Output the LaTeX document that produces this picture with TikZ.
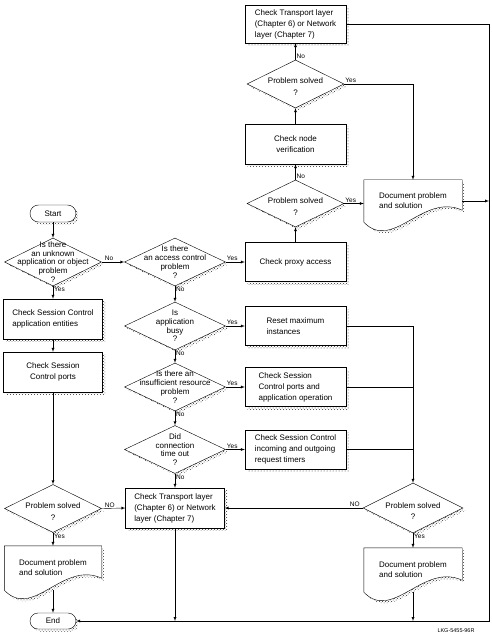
\documentclass[tikz,border=0pt]{standalone}
\usepackage{fontspec}
\setmainfont{Liberation Sans}
\usetikzlibrary{shapes.geometric, shapes.misc, shadows, patterns, backgrounds, positioning, arrows}
\tikzset{
x=1pt, y=-1pt, % one unit is one pixel of the scan, y goes down
line width=0.8pt,
>=latex,
halfdots/.style={pattern=crosshatch dots, pattern color=black!80}, % halftone used for the shadows
halftone/.style={general shadow={shadow xshift=2.5pt, shadow yshift=-2.5pt, halfdots}},
box/.style={draw, fill=white, halftone, minimum width=101pt, minimum height=40pt, inner sep=2pt, align=left, font=\fontsize{8}{11}\selectfont},
decision/.style={diamond, draw, fill=white, halftone, minimum width=97pt, minimum height=48pt, inner sep=0pt},
dtext/.style={align=center, inner sep=0pt, font=\fontsize{8}{8.8}\selectfont},
term/.style={rounded rectangle, draw, fill=white, halftone, minimum width=46pt, minimum height=17pt, inner sep=0pt, font=\fontsize{8}{10}\selectfont},
doc/.style={minimum width=98pt, align=left, inner sep=0pt, font=\fontsize{8}{10}\selectfont},
flow/.style={->},
yn/.style={font=\fontsize{6.5}{7}\selectfont, inner sep=1pt},
}
% outline of a document symbol, wave under the node
\def\docpath#1{(#1.north west) -- (#1.north east) -- ([yshift=12pt]#1.south east)
  .. controls +(-39,-18) and +(29,30) .. (#1.south west) -- cycle}

\begin{document}
\begin{tikzpicture}
\useasboundingbox (0,0) rectangle (491,636);

% left column
\node[term] (start) at (53,213.5) {Start};
\node[decision, label={[dtext]center:{Is there\\an unknown\\application or object\\problem\\?}}] (unknown) at (53,262) {};
\node[box, minimum width=99pt] (entities) at (53,319) {Check Session Control\\application entities};
\node[box, minimum width=99pt, align=center] (ports) at (53,372) {Check Session\\Control ports};
\node[decision, label={[dtext, yshift=-3pt]center:{Problem solved\\[3pt]?}}] (solvedL) at (53,508.5) {};
\node[doc, minimum width=97pt, minimum height=44pt] (docL) at (53,568) {Document problem\\and solution};
\node[term, minimum height=16pt] (finish) at (53,621) {End};

% middle column
\node[decision, minimum width=101pt, label={[dtext]center:{Is there\\an access control\\problem\\?}}] (access) at (175,262) {};
\node[decision, minimum width=101pt, label={[dtext]center:{Is\\application\\busy\\?}}] (busy) at (175,326) {};
\node[decision, minimum width=101pt, label={[dtext]center:{Is there an\\insufficient resource\\problem\\?}}] (resource) at (175,387) {};
\node[decision, minimum width=101pt, label={[dtext]center:{Did\\connection\\time out\\?}}] (timeout) at (175,449.5) {};
\node[box, minimum width=99pt] (transL) at (175,508) {Check Transport layer\\(Chapter 6) or Network\\layer (Chapter 7)};

% right column
\node[box, minimum height=38pt] (transU) at (295.5,24) {Check Transport layer\\(Chapter 6) or Network\\layer (Chapter 7)};
\node[decision, label={[dtext, yshift=-3pt]center:{Problem solved\\[3pt]?}}] (solvedB) at (295.5,84) {};
\node[box, align=center] (verify) at (295.5,144) {Check node\\verification};
\node[decision, minimum height=47pt, label={[dtext, yshift=-3pt]center:{Problem solved\\[3pt]?}}] (solvedA) at (295.5,203.5) {};
\node[box, minimum height=39pt] (proxy) at (295.5,262) {Check proxy access};
\node[box, minimum height=39pt] (reset) at (295.5,326) {Reset maximum\\instances};
\node[box, minimum height=39pt] (appop) at (295.5,387) {Check Session\\Control ports and\\application operation};
\node[box, minimum height=39pt] (timers) at (295.5,449.5) {Check Session Control\\incoming and outgoing\\request timers};

% documents and last check on the far right
\node[doc, minimum height=42pt] (docU) at (413,201) {Document problem\\and solution};
\node[decision, minimum width=100pt, minimum height=50pt, label={[dtext, yshift=-3pt]center:{Problem solved\\[3pt]?}}] (solvedR) at (413,508) {};
\node[doc, minimum height=44pt] (docR) at (413,570) {Document problem\\and solution};

\begin{scope}[on background layer]
\foreach \d in {docL, docU, docR} {
  \fill[halfdots, transform canvas={shift={(2.5pt,-2.5pt)}}] \docpath{\d};
  \draw[fill=white] \docpath{\d};
}
\end{scope}

\coordinate (rcorner) at (489,621);
\coordinate (merge) at (413,326);

% left column flow
\draw[flow] (start.south) -- (unknown.north);
\draw[flow] (unknown.east) -- node[yn, pos=0, anchor=south west, xshift=2pt]{No} (access.west);
\draw[flow] (unknown.south) -- node[yn, pos=0, anchor=north west]{Yes} (entities.north);
\draw[flow] (entities) -- (ports);
\draw[flow] (ports) -- (solvedL);
\draw[flow] (solvedL.east) -- node[yn, pos=0, anchor=south west, xshift=2pt]{NO} (transL.west);
\draw[flow] (solvedL.south) -- node[yn, pos=0, anchor=north west]{Yes} (docL.north);
\draw[flow] (docL.south) -- (finish.north);

% middle column flow
\draw[flow] (access.east) -- node[yn, pos=0, anchor=south west]{Yes} (proxy.west);
\draw[flow] (access.south) -- node[yn, pos=0, anchor=north west]{No} (busy.north);
\draw[flow] (busy.east) -- node[yn, pos=0, anchor=south west]{Yes} (reset.west);
\draw[flow] (busy.south) -- node[yn, pos=0, anchor=north west]{No} (resource.north);
\draw[flow] (resource.east) -- node[yn, pos=0, anchor=south west]{Yes} (appop.west);
\draw[flow] (resource.south) -- node[yn, pos=0, anchor=north west]{No} (timeout.north);
\draw[flow] (timeout.east) -- node[yn, pos=0, anchor=south west]{Yes} (timers.west);
\draw[flow] (timeout.south) -- node[yn, pos=0, anchor=north west]{No} (transL.north);

% right column flow
\draw[flow] (proxy.north) -- (solvedA.south);
\draw[flow] (solvedA.east) -- node[yn, pos=0, anchor=south west]{Yes} (solvedA.east -| docU.west);
\draw[flow] (solvedA.north) -- node[yn, pos=0, anchor=south west]{No} (verify.south);
\draw[flow] (verify.north) -- (solvedB.south);
\draw[flow] (solvedB.north) -- node[yn, pos=0, anchor=south west]{No} (transU.south);
\draw[flow] (solvedB.east) -| node[yn, pos=0, anchor=south west]{Yes} (docU.north);

% the long way round to End
\draw[flow] (transU.east) -- (transU.east -| rcorner) -- (rcorner) -- (finish.east);
\draw[flow] (docU.east) -- (docU.east -| rcorner);
\draw[flow] (transL.south) -- (transL.south |- rcorner);
\draw[flow] (docR.south) -- (docR.south |- rcorner);

% fixes merge into the last check
\draw (reset.east) -- (merge);
\draw (appop.east) -- (appop.east -| merge);
\draw (timers.east) -- (timers.east -| merge);
\draw[flow] (merge) -- (solvedR.north);
\draw[flow] (solvedR.west) -- node[yn, pos=0, anchor=south east, xshift=-2pt]{NO} (transL.east);
\draw[flow] (solvedR.south) -- node[yn, pos=0, anchor=north west]{Yes} (docR.north);

\node[font=\fontsize{5.5}{6}\selectfont] (figcode) at (456,631) {LKG-5455-96R};
\end{tikzpicture}
\end{document}
